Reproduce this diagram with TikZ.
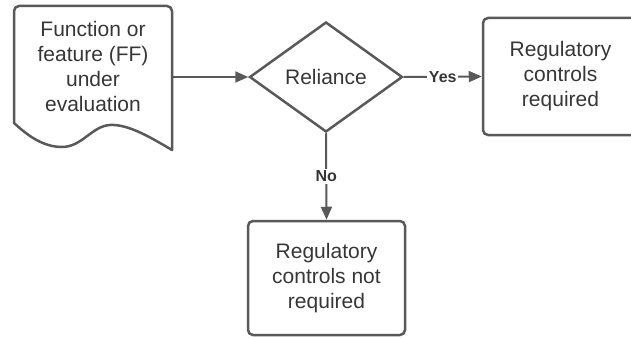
\documentclass[tikz,border=0pt]{standalone}
\usepackage{fontspec}
\setmainfont{Liberation Sans}
\usetikzlibrary{shapes.geometric,arrows.meta}
\definecolor{edge}{HTML}{595959}
\definecolor{ink}{HTML}{363636}
\begin{document}
\begin{tikzpicture}[x=1pt,y=-1pt,
  every node/.style={text=ink, font=\fontsize{21}{25}\selectfont, align=center},
  shapeline/.style={draw=edge, line width=2.5pt},
  box/.style={shapeline, rounded corners=5pt, inner sep=0pt},
  flow/.style={draw=edge, line width=2pt, -{Triangle[length=13pt,width=11pt]}},
  tag/.style={font=\fontsize{16}{18}\selectfont\bfseries, fill=white, inner sep=1.5pt}]
\useasboundingbox (0,0) rectangle (631,337);
\clip (0,0) rectangle (631,337);

% document shape: function or feature under evaluation
\node[minimum width=158pt, minimum height=142pt, inner sep=0pt] (doc) at (93,77) {};
\draw[shapeline, line join=round] (14,123)
  [rounded corners=5pt] -- (14,6) -- (172,6) -- (172,40)
  [sharp corners] -- (172,150)
  .. controls (150,137) and (128,124) .. (110,125)
  .. controls (92,126) and (82,147) .. (62,147)
  .. controls (42,147) and (26,134) .. (14,123) -- cycle;
\node (doctext) at (93,66) {Function or\\feature (FF)\\under\\evaluation};

% decision
\node[shapeline, diamond, aspect=1.39, minimum width=153pt, minimum height=110pt, inner sep=0pt] (dia) at (326,77) {Reliance};

% outcomes
\node[box, minimum width=155pt, minimum height=117pt] (yes) at (560.5,76.5) {Regulatory\\controls\\required};
\node[box, minimum width=157pt, minimum height=114pt] (no) at (326.5,278) {Regulatory\\controls not\\required};

% connectors
\draw[flow] (doc.east) -- (dia.west);
\draw[flow] (dia.east) -- node[tag] {Yes} (yes.west);
\draw[flow] (dia.south) -- node[tag] {No} (no.north);
\end{tikzpicture}
\end{document}
